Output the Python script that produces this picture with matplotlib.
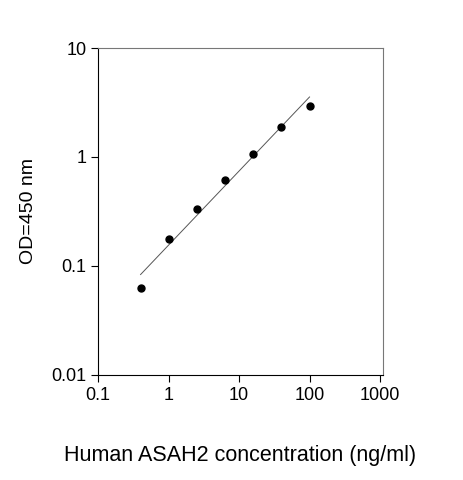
import numpy as np
import matplotlib
matplotlib.use("Agg")
import matplotlib.pyplot as plt

plt.rcParams['font.family'] = ['Liberation Sans', 'DejaVu Sans']

conc = [0.4, 1.0, 2.5, 6.25, 15.6, 39.0, 100.0]
od = [0.063, 0.175, 0.33, 0.62, 1.07, 1.9, 2.95]

fig = plt.figure(figsize=(4.63, 4.8), dpi=100)
ax = fig.add_axes([0.212, 0.219, 0.615, 0.681])

# log-log linear fit
k, b = np.polyfit(np.log10(conc), np.log10(od), 1)
xf = np.array([conc[0], conc[-1]])
ax.plot(xf, 10 ** (k * np.log10(xf) + b), color='#555555', linewidth=0.7)
ax.plot(conc, od, 'o', color='black', markersize=5)

ax.set_xscale('log')
ax.set_yscale('log')
ax.set_xlim(0.1, 1100)
ax.set_ylim(0.01, 10)
ax.set_xticks([0.1, 1, 10, 100, 1000])
ax.set_xticklabels(['0.1', '1', '10', '100', '1000'])
ax.set_yticks([0.01, 0.1, 1, 10])
ax.set_yticklabels(['0.01', '0.1', '1', '10'])
ax.minorticks_off()
ax.tick_params(labelsize=13, length=5, width=0.8, direction='out')
for s in ax.spines.values():
    s.set_linewidth(0.8)
ax.spines['top'].set_color('#777777')
ax.spines['right'].set_color('#777777')
ax.set_ylabel('OD=450 nm', fontsize=14, labelpad=10)
ax.set_xlabel('Human ASAH2 concentration (ng/ml)', fontsize=15.5, labelpad=30)

fig.savefig('out.png', dpi=100)
